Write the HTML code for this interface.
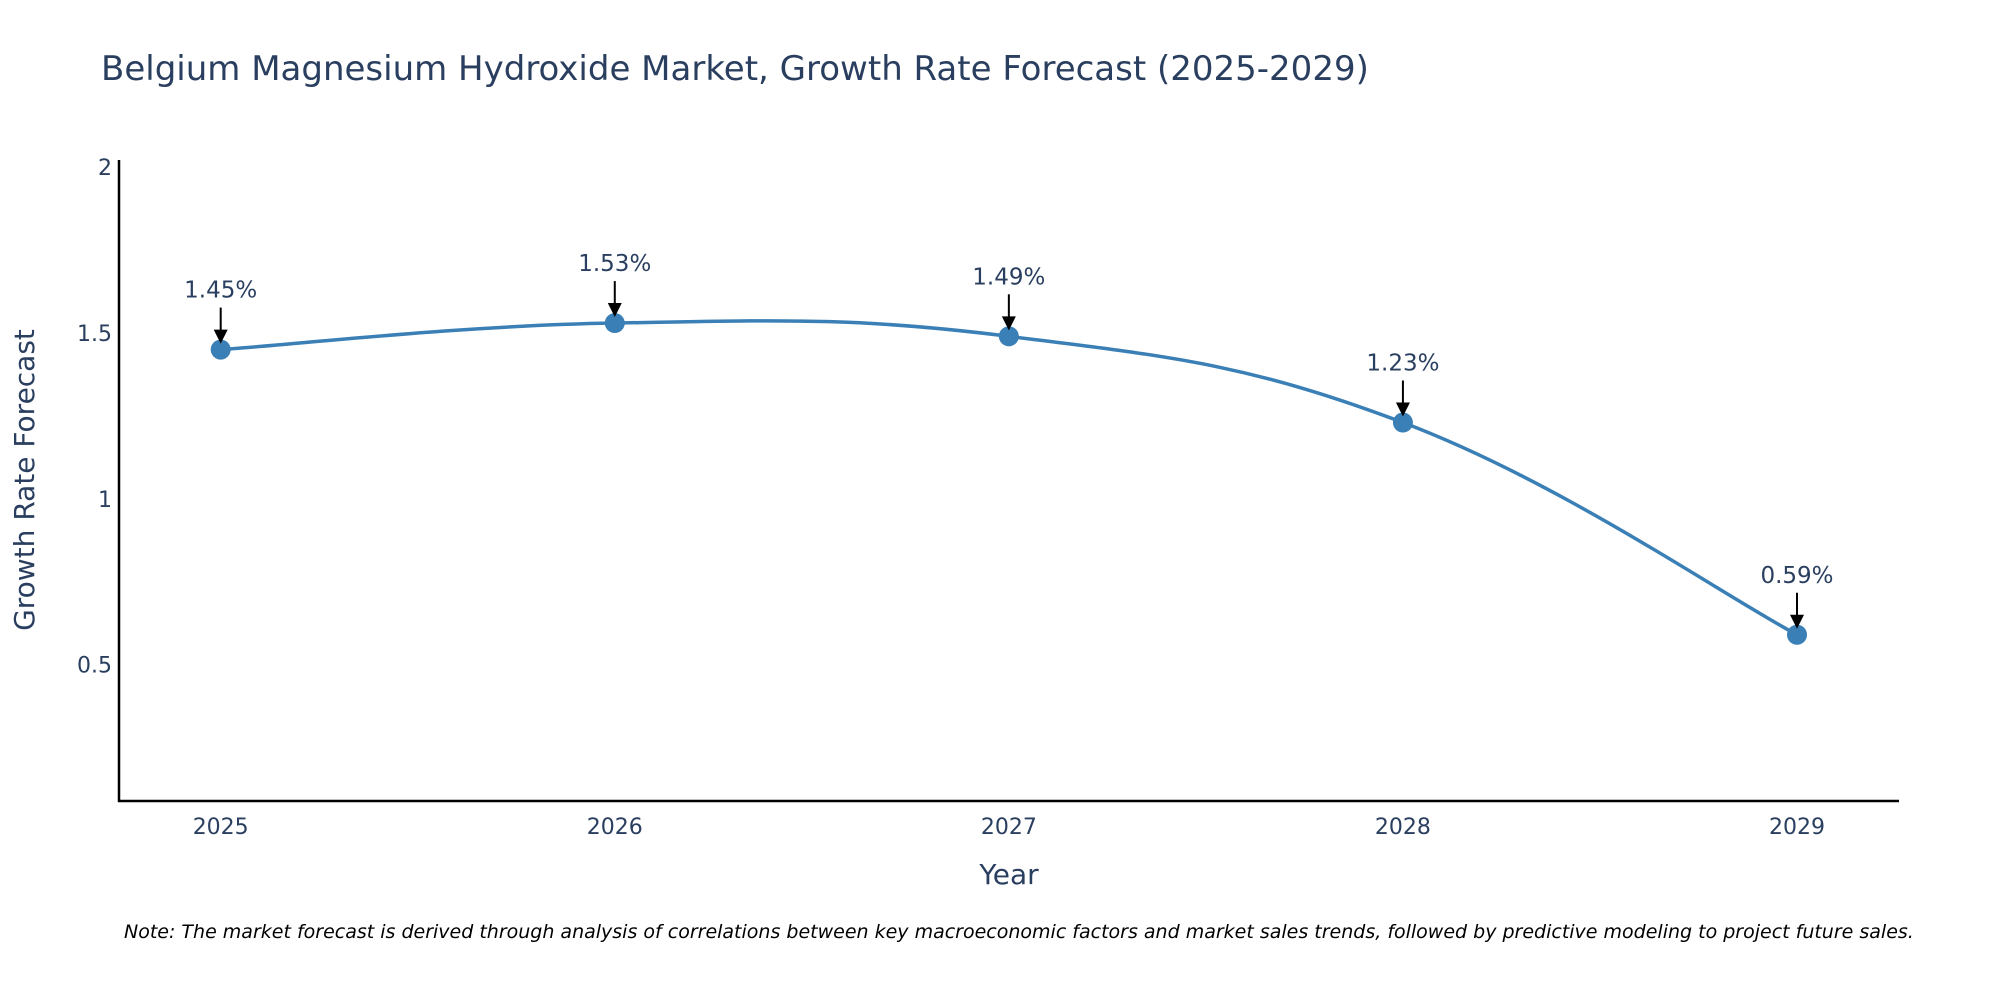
<!DOCTYPE html>
<html><head><meta charset="utf-8">
<style>
html,body{margin:0;padding:0;background:#fff;}
svg{display:block;font-family:"DejaVu Sans","Liberation Sans",sans-serif;}
</style></head>
<body>
<svg id="chart" width="2000" height="1000" viewBox="0 0 2000 1000" xmlns="http://www.w3.org/2000/svg">
<rect width="2000" height="1000" fill="#fff"/>
<text x="101" y="80" font-size="34" fill="#2a3f5f">Belgium Magnesium Hydroxide Market, Growth Rate Forecast (2025-2029)</text>
<g id="yticks"></g>
<g id="xticks"></g>
<line x1="119" y1="160" x2="119" y2="802" stroke="#000" stroke-width="2.5"/>
<line x1="118" y1="801" x2="1899" y2="801" stroke="#000" stroke-width="2.5"/>
<text transform="translate(34,480) rotate(-90)" text-anchor="middle" font-size="28" fill="#2a3f5f">Growth Rate Forecast</text>
<text x="1009" y="884" text-anchor="middle" font-size="28" fill="#2a3f5f">Year</text>
<g id="series"></g>
<text x="124" y="938" font-size="19" font-style="italic" fill="#000">Note: The market forecast is derived through analysis of correlations between key macroeconomic factors and market sales trends, followed by predictive modeling to project future sales.</text>
</svg>
<script>
const categories = ["2025","2026","2027","2028","2029"];
const values = [1.45, 1.53, 1.49, 1.23, 0.59];
const labels = ["1.45%","1.53%","1.49%","1.23%","0.59%"];
const yTicks = [0.5, 1, 1.5, 2];

const NS = "http://www.w3.org/2000/svg";
function xPos(i){ return 220.7 + i * (1797 - 220.7) / (categories.length - 1); }
function yPos(v){ return 333 - (v - 1.5) * 331.6; }
function mk(tag, attrs, parent){
  const e = document.createElementNS(NS, tag);
  for (const k in attrs) e.setAttribute(k, attrs[k]);
  parent.appendChild(e); return e;
}
const yg = document.getElementById("yticks");
yTicks.forEach(t => {
  const e = mk("text", {x: 112, y: yPos(t) + 8, "text-anchor": "end", "font-size": 22, fill: "#2a3f5f"}, yg);
  
  
  e.textContent = String(t);
});
const xg = document.getElementById("xticks");
categories.forEach((c, i) => {
  const e = mk("text", {x: xPos(i), y: 834, "text-anchor": "middle", "font-size": 22, fill: "#2a3f5f"}, xg);
  
  
  e.textContent = c;
});
const sg = document.getElementById("series");
const pts = values.map((v, i) => [xPos(i), yPos(v)]);
let d = "M" + pts[0][0] + "," + pts[0][1];
const s = 0.2;
for (let i = 0; i < pts.length - 1; i++){
  const p0 = pts[Math.max(0, i - 1)], p1 = pts[i], p2 = pts[i + 1], p3 = pts[Math.min(pts.length - 1, i + 2)];
  const c1 = [p1[0] + (p2[0] - p0[0]) * s, p1[1] + (p2[1] - p0[1]) * s];
  const c2 = [p2[0] - (p3[0] - p1[0]) * s, p2[1] - (p3[1] - p1[1]) * s];
  d += " C" + c1[0] + "," + c1[1] + " " + c2[0] + "," + c2[1] + " " + p2[0] + "," + p2[1];
}
const line = mk("path", {d: d, fill: "none", stroke: "#3a7fb5", "stroke-width": 3.5}, sg);


pts.forEach((p, i) => {
  const c = mk("circle", {cx: p[0], cy: p[1], r: 10, fill: "#3a7fb5"}, sg);
  
  
  const a = mk("line", {x1: p[0], y1: p[1] - 42, x2: p[0], y2: p[1] - 18, stroke: "#000", "stroke-width": 2}, sg);
  
  
  const h = mk("polygon", {points: (p[0]-7)+","+(p[1]-20)+" "+(p[0]+7)+","+(p[1]-20)+" "+p[0]+","+(p[1]-6), fill: "#000"}, sg);
  
  
  const t = mk("text", {x: p[0], y: p[1] - 52, "text-anchor": "middle", "font-size": 23, fill: "#2a3f5f"}, sg);
  
  
  t.textContent = labels[i];
});
</script>
</body></html>
